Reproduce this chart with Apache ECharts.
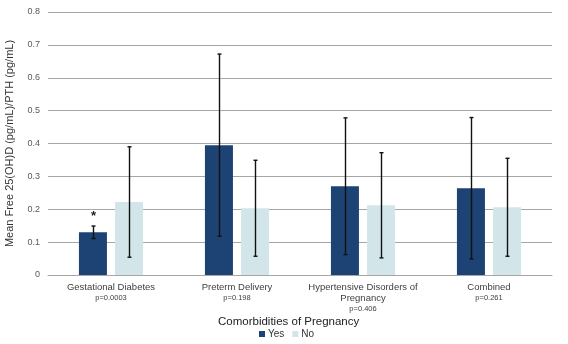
<!DOCTYPE html>
<html>
<head>
<meta charset="utf-8">
<script src="https://cdn.jsdelivr.net/npm/echarts@6/dist/echarts.min.js"></script>
<style>
  html, body { margin: 0; padding: 0; background: #ffffff; }
  #chart { width: 568px; height: 344px; }
</style>
</head>
<body>
<div id="chart"></div>
<script>
// Comorbidity groups and their p-values
const categories = ['Gestational Diabetes', 'Preterm Delivery', 'Hypertensive Disorders of\nPregnancy', 'Combined'];
const pValues = ['p=0.0003', 'p=0.198', 'p=0.406', 'p=0.261'];

// Mean free 25(OH)D / PTH ratio
const yesMeans = [0.13, 0.395, 0.27, 0.264];
const noMeans = [0.222, 0.203, 0.212, 0.206];

// Error bar half-widths
const yesErrors = [0.019, 0.277, 0.208, 0.215];
const noErrors = [0.168, 0.146, 0.16, 0.149];

// Significance markers above the "Yes" bars
const yesMarks = ['*', '', '', ''];

const yTicks = [0, 0.1, 0.2, 0.3, 0.4, 0.5, 0.6, 0.7, 0.8];

const YES_COLOR = '#1d4374';
const NO_COLOR = '#d2e6ea';
const BAR_W = 28;
const OFFSET = 18; // distance from category centre to each bar's centre

function errorSeries(name, means, errors, shift, marks) {
  return {
    name: name + ' error',
    type: 'custom',
    z: 5,
    silent: true,
    data: means.map((m, i) => [i, m - errors[i], m + errors[i], marks ? marks[i] : '']),
    renderItem: function (params, api) {
      const lo = api.coord([api.value(0), api.value(1)]);
      const hi = api.coord([api.value(0), api.value(2)]);
      const x = Math.round(lo[0] + shift) + 0.5;
      const cap = 2;
      const style = { stroke: '#111111', lineWidth: 1.4 };
      const children = [
        { type: 'line', shape: { x1: x, y1: hi[1], x2: x, y2: lo[1] }, style: style },
        { type: 'line', shape: { x1: x - cap, y1: hi[1], x2: x + cap, y2: hi[1] }, style: style },
        { type: 'line', shape: { x1: x - cap, y1: lo[1], x2: x + cap, y2: lo[1] }, style: style }
      ];
      const mark = api.value(3);
      if (mark) {
        children.push({
          type: 'text',
          style: {
            text: mark, x: x, y: hi[1] - 3,
            align: 'center', verticalAlign: 'bottom',
            font: 'bold 13px "Liberation Sans", Arial, sans-serif', fill: '#222222'
          }
        });
      }
      return { type: 'group', children: children };
    }
  };
}

const chart = echarts.init(document.getElementById('chart'), null, { renderer: 'canvas' });

chart.setOption({
  animation: false,
  backgroundColor: '#ffffff',
  textStyle: { fontFamily: '"Liberation Sans", Arial, sans-serif' },
  grid: { left: 48, right: 16, top: 12, bottom: 69, containLabel: false, outerBoundsMode: 'none' },
  legend: {
    data: ['Yes', 'No'],
    left: 259,
    top: 329,
    padding: 0,
    itemWidth: 6,
    itemHeight: 6,
    itemGap: 8,
    icon: 'rect',
    textStyle: { fontSize: 10, color: '#333333', padding: [0, 0, 0, -2] }
  },
  xAxis: {
    type: 'category',
    data: categories,
    axisTick: { show: false },
    axisLine: { lineStyle: { color: '#a6a6a6', width: 1 } },
    axisLabel: {
      interval: 0,
      margin: 7,
      lineHeight: 11,
      formatter: function (value, idx) {
        return '{c|' + value.split('\n').join('}\n{c|') + '}\n{p|' + pValues[idx] + '}';
      },
      rich: {
        c: { fontSize: 9.5, color: '#404040', lineHeight: 11, align: 'center' },
        p: { fontSize: 7.5, color: '#404040', lineHeight: 10, align: 'center' }
      }
    }
  },
  yAxis: {
    type: 'value',
    min: yTicks[0],
    max: yTicks[yTicks.length - 1],
    interval: 0.1,
    name: 'Mean Free 25(OH)D (pg/mL)/PTH (pg/mL)',
    nameLocation: 'middle',
    nameGap: 33,
    nameTextStyle: { fontSize: 11, color: '#333333' },
    axisLine: { show: false },
    axisTick: { show: false },
    axisLabel: { fontSize: 9, color: '#595959', margin: 8 },
    splitLine: { lineStyle: { color: '#a6a6a6', width: 1 } }
  },
  graphic: [{
    type: 'text',
    left: 218,
    top: 316,
    style: {
      text: 'Comorbidities of Pregnancy',
      font: '11.5px "Liberation Sans", Arial, sans-serif',
      fill: '#222222'
    }
  }],
  series: [
    {
      name: 'Yes',
      type: 'bar',
      data: yesMeans,
      barWidth: BAR_W,
      barGap: '29%',
      itemStyle: { color: YES_COLOR }
    },
    {
      name: 'No',
      type: 'bar',
      data: noMeans,
      barWidth: BAR_W,
      itemStyle: { color: NO_COLOR }
    },
    errorSeries('Yes', yesMeans, yesErrors, -OFFSET, yesMarks),
    errorSeries('No', noMeans, noErrors, OFFSET, null)
  ]
});
</script>
</body>
</html>
